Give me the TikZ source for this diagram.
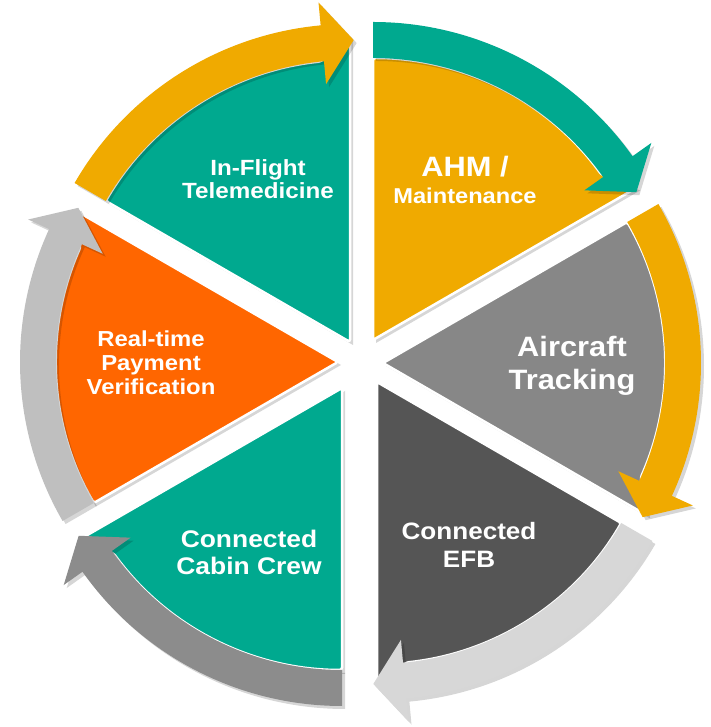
\documentclass[tikz,border=0pt]{standalone}
\usepackage{fontspec}
\newfontfamily\lblfont{Liberation Sans}[FakeStretch=1.1]
\usetikzlibrary{calc}
\definecolor{cTeal}{HTML}{00A98F}
\definecolor{cGold}{HTML}{F0AA00}
\definecolor{cOrange}{HTML}{FF6600}
\definecolor{cGray}{HTML}{878787}
\definecolor{cDark}{HTML}{555555}
\definecolor{cLightA}{HTML}{D7D7D7}
\definecolor{cLightB}{HTML}{BFBFBF}
\definecolor{cMidA}{HTML}{8C8C8C}
\begin{document}
\begin{tikzpicture}[x=1pt,y=1pt,
  shadowpart/.style={fill=black, opacity=0.16, transform canvas={shift={(3pt,-3pt)}}},
  wedgebox/.style={draw=white, line width=2.5pt, rounded corners=2.5pt},
  lbl/.style={text=white, align=center, anchor=base, inner sep=0pt}]
\fill[white] (0,0) rectangle (710,727);
\useasboundingbox (0,0) rectangle (710,727);
% wedge apices
\coordinate (A1) at (350,385);
\coordinate (A2) at (373,387);
\coordinate (A3) at (383,364);
\coordinate (A4) at (377,345);
\coordinate (A5) at (342,339);
\coordinate (A6) at (338,365);
% wedge shadows
\foreach \n/\e in {1/90,2/30,3/-30,4/-90,5/210,6/150}{
  \pgfmathsetmacro\s{\e+60}
  \pgfmathsetmacro\b{\e+6}
  \path[shadowpart] (A\n) -- ($(A\n)+(\s:283)$) arc[start angle=\s, end angle=\b, radius=283] -- ($(A\n)+(\e:305)$) -- cycle;
}
% wedges
\foreach \n/\e/\wc in {1/90/cTeal,2/30/cGold,3/-30/cGray,4/-90/cDark,5/210/cTeal,6/150/cOrange}{
  \pgfmathsetmacro\s{\e+60}
  \pgfmathsetmacro\b{\e+6}
  \path[wedgebox, fill=\wc] (A\n) -- ($(A\n)+(\s:282)$) arc[start angle=\s, end angle=\b, radius=282] -- ($(A\n)+(\e:304)$) -- cycle;
}
% arrow shadows
\foreach \n/\e in {1/90,2/30,3/-30,4/-90,5/210,6/150}{
  \pgfmathsetmacro\s{\e+60}
  \pgfmathsetmacro\b{\e+5.3}
  \pgfmathsetmacro\t{\e-0.7}
  \path[shadowpart] ($(A\n)+(\s:282)$) arc[start angle=\s, end angle=\b, radius=282] -- ($(A\n)+(\b:259)$) -- ($(A\n)+(\t:302)$) -- ($(A\n)+(\b:341)$) -- ($(A\n)+(\b:318)$) arc[start angle=\b, end angle=\s, radius=318] -- cycle;
}
% arrows
\foreach \n/\e/\ac in {1/90/cGold,2/30/cTeal,3/-30/cGold,4/-90/cLightA,5/210/cMidA,6/150/cLightB}{
  \pgfmathsetmacro\s{\e+60}
  \pgfmathsetmacro\b{\e+5.3}
  \pgfmathsetmacro\t{\e-0.7}
  \path[fill=\ac] ($(A\n)+(\s:282)$) arc[start angle=\s, end angle=\b, radius=282] -- ($(A\n)+(\b:259)$) -- ($(A\n)+(\t:302)$) -- ($(A\n)+(\b:341)$) -- ($(A\n)+(\b:318)$) arc[start angle=\b, end angle=\s, radius=318] -- cycle;
}
% labels (anchor base = baseline of last line)
\node[lbl, font=\lblfont\bfseries\fontsize{22}{23}\selectfont] (tele) at (258,528) {In-Flight\\Telemedicine};
\node[lbl, font=\lblfont\bfseries\fontsize{21.5}{27}\selectfont] (ahm) at (465,523) {{\fontsize{28}{28}\selectfont AHM /}\\Maintenance};
\node[lbl, font=\lblfont\bfseries\fontsize{28}{33}\selectfont] (track) at (572,337) {Aircraft\\Tracking};
\node[lbl, font=\lblfont\bfseries\fontsize{23.7}{28}\selectfont] (efb) at (469,159) {Connected\\EFB};
\node[lbl, font=\lblfont\bfseries\fontsize{24}{27}\selectfont] (cabin) at (249,152) {Connected\\Cabin Crew};
\node[lbl, font=\lblfont\bfseries\fontsize{21.7}{24}\selectfont] (pay) at (151,332) {Real-time\\Payment\\Verification};
\end{tikzpicture}
\end{document}
